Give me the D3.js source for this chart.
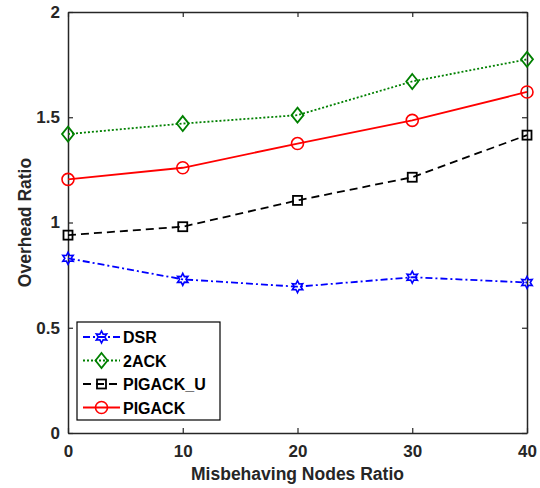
<!DOCTYPE html>
<html lang="en">
<head>
    <meta charset="UTF-8">
    <title>Overhead Ratio</title>
    <script src="https://d3js.org/d3.v7.min.js"></script>
    <style>
        body{
            margin: 0;
            background: white;
            font-family: "Liberation Sans", Arial, sans-serif;
        }
        .tick text{
            font-size: 17px;
            font-weight: bold;
            fill: #262626;
        }
        .axis_label{
            font-size: 17.5px;
            font-weight: bold;
            fill: #262626;
        }
        .legend_text{
            font-size: 16px;
            font-weight: bold;
            fill: #000;
        }
    </style>
</head>
<body>
<svg id="chart" width="540" height="488"></svg>
<script>
    // data
    let xValues = [0, 10, 20, 30, 40]
    let dsr = [0.83, 0.73, 0.695, 0.74, 0.715]
    let twoAck = [1.42, 1.47, 1.51, 1.67, 1.775]
    let pigackU = [0.94, 0.98, 1.105, 1.215, 1.415]
    let pigack = [1.205, 1.26, 1.375, 1.485, 1.62]
    let seriesNames = ["DSR", "2ACK", "PIGACK_U", "PIGACK"]
    let xTicks = [0, 10, 20, 30, 40]
    let yTicks = [0, 0.5, 1, 1.5, 2]

    let series = [
        {name: seriesNames[0], values: dsr, color: "#0000ff", dash: "7,3,2,3", marker: "hexagram"},
        {name: seriesNames[1], values: twoAck, color: "#008000", dash: "2,2", marker: "diamond"},
        {name: seriesNames[2], values: pigackU, color: "#000000", dash: "8,5", marker: "square"},
        {name: seriesNames[3], values: pigack, color: "#ff0000", dash: null, marker: "circle"}
    ]

    let margin = {left: 68, right: 13, top: 12, bottom: 55}
    let width = 540, height = 488
    let svg = d3.select("#chart")

    let x = d3.scaleLinear().domain([0, 40]).range([margin.left, width - margin.right])
    let y = d3.scaleLinear().domain([0, 2]).range([height - margin.bottom, margin.top])

    // axes with inward ticks, box on all sides
    let tickLen = 5
    svg.append("g")
        .attr("transform", `translate(0,${y(0)})`)
        .call(d3.axisBottom(x).tickValues(xTicks).tickSizeInner(-tickLen).tickSizeOuter(0).tickPadding(12))
    svg.append("g")
        .attr("transform", `translate(${x(0)},0)`)
        .call(d3.axisLeft(y).tickValues(yTicks).tickSizeInner(-tickLen).tickSizeOuter(0).tickPadding(8).tickFormat(d3.format("")))
    svg.append("g")
        .attr("transform", `translate(0,${y(2)})`)
        .call(d3.axisTop(x).tickValues(xTicks).tickSizeInner(-tickLen).tickSizeOuter(0).tickFormat(""))
    svg.append("g")
        .attr("transform", `translate(${x(40)},0)`)
        .call(d3.axisRight(y).tickValues(yTicks).tickSizeInner(-tickLen).tickSizeOuter(0).tickFormat(""))
    svg.selectAll(".domain").attr("stroke", "#262626").attr("stroke-width", 1.5)
    svg.selectAll(".tick line").attr("stroke", "#262626").attr("stroke-width", 1.2)

    svg.append("text")
        .attr("class", "axis_label")
        .attr("x", (x(0) + x(40)) / 2)
        .attr("y", 480)
        .attr("text-anchor", "middle")
        .text("Misbehaving Nodes Ratio")
    svg.append("text")
        .attr("class", "axis_label")
        .attr("transform", `translate(31,${(y(0) + y(2)) / 2}) rotate(-90)`)
        .attr("text-anchor", "middle")
        .text("Overhead Ratio")

    function drawMarker(g, type, color) {
        if (type === "circle") {
            g.append("circle").attr("r", 6).attr("fill", "none").attr("stroke", color).attr("stroke-width", 1.6)
        } else if (type === "square") {
            g.append("rect").attr("x", -4.5).attr("y", -4.5).attr("width", 9).attr("height", 9)
                .attr("fill", "none").attr("stroke", color).attr("stroke-width", 1.8)
        } else if (type === "diamond") {
            g.append("path").attr("d", "M0,-7.5L6,0L0,7.5L-6,0Z")
                .attr("fill", "none").attr("stroke", color).attr("stroke-width", 1.8)
        } else {
            let pts = []
            for (let i = 0; i < 12; i++) {
                let r = i % 2 === 0 ? 6 : 3.2
                let a = Math.PI / 2 + i * Math.PI / 6
                pts.push([r * Math.cos(a), r * Math.sin(a)])
            }
            g.append("path").attr("d", "M" + pts.join("L") + "Z")
                .attr("fill", "none").attr("stroke", color).attr("stroke-width", 1.6)
        }
    }

    let line = d3.line().x((d, i) => x(xValues[i])).y(d => y(d))

    series.forEach(s => {
        svg.append("path")
            .attr("d", line(s.values))
            .attr("fill", "none")
            .attr("stroke", s.color)
            .attr("stroke-width", 1.8)
            .attr("stroke-dasharray", s.dash)
        s.values.forEach((v, i) => {
            let g = svg.append("g").attr("transform", `translate(${x(xValues[i])},${y(v)})`)
            drawMarker(g, s.marker, s.color)
        })
    })

    // legend
    let legend = svg.append("g").attr("transform", "translate(77,322)")
    legend.append("rect")
        .attr("width", 143).attr("height", 98)
        .attr("fill", "white").attr("stroke", "#000").attr("stroke-width", 1.2)
    series.forEach((s, i) => {
        let ly = 15 + i * 23.5
        legend.append("line")
            .attr("x1", 6).attr("x2", 43).attr("y1", ly).attr("y2", ly)
            .attr("stroke", s.color).attr("stroke-width", 1.8)
            .attr("stroke-dasharray", s.dash)
        drawMarker(legend.append("g").attr("transform", `translate(24.5,${ly})`), s.marker, s.color)
        legend.append("text")
            .attr("class", "legend_text")
            .attr("x", 46).attr("y", ly + 6)
            .text(s.name)
    })
</script>
</body>
</html>
